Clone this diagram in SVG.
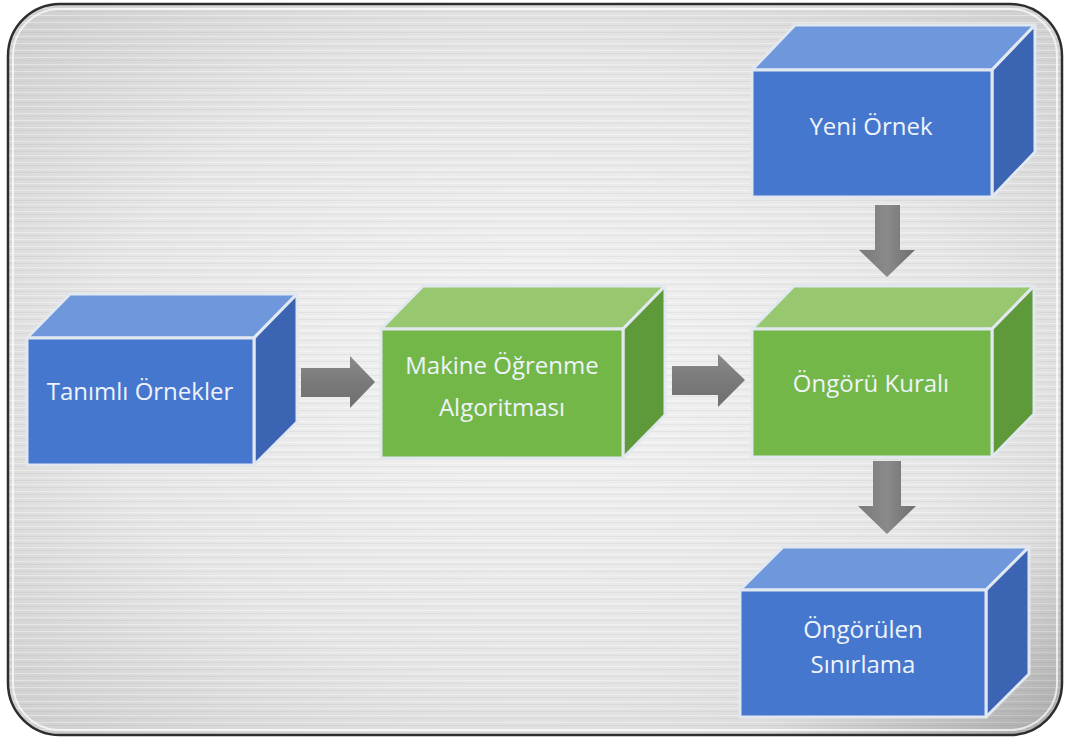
<svg xmlns="http://www.w3.org/2000/svg" width="1068" height="740" viewBox="0 0 1068 740">
  <defs>
    <radialGradient id="panelFill" cx="0.5" cy="0.5" r="0.7">
      <stop offset="0" stop-color="#f3f3f3"/>
      <stop offset="0.6" stop-color="#e6e6e6"/>
      <stop offset="1" stop-color="#cfcfcf"/>
    </radialGradient>
    <pattern id="brushed" width="8" height="7" patternUnits="userSpaceOnUse">
      <rect width="8" height="7" fill="none"/>
      <line x1="0" y1="1.5" x2="8" y2="1.5" stroke="#ffffff" stroke-opacity="0.35" stroke-width="1"/>
      <line x1="0" y1="4.5" x2="8" y2="4.5" stroke="#9a9a9a" stroke-opacity="0.12" stroke-width="1"/>
    </pattern>
    <linearGradient id="edgeShade" x1="0" y1="0" x2="1" y2="1">
      <stop offset="0" stop-color="#000" stop-opacity="0"/>
      <stop offset="0.85" stop-color="#000" stop-opacity="0"/>
      <stop offset="1" stop-color="#000" stop-opacity="0.18"/>
    </linearGradient>
    <linearGradient id="arrowH" x1="0" y1="0" x2="0" y2="1">
      <stop offset="0" stop-color="#8a8a8a"/>
      <stop offset="0.5" stop-color="#7a7a7a"/>
      <stop offset="1" stop-color="#6e6e6e"/>
    </linearGradient>
    <linearGradient id="arrowV" x1="0" y1="0" x2="1" y2="0">
      <stop offset="0" stop-color="#7a7a7a"/>
      <stop offset="0.5" stop-color="#8a8a8a"/>
      <stop offset="1" stop-color="#6e6e6e"/>
    </linearGradient>
    <style>
      .face { stroke: #e2e8f0; stroke-width: 3; stroke-linejoin: round; }
      .blue.front { fill: #4677cf; }
      .blue.top { fill: #6f97dc; }
      .blue.side { fill: #3b65b2; }
      .green.front { fill: #74b749; }
      .green.top { fill: #97c86f; }
      .green.side { fill: #5f9a3a; }
      .label { font-family: "Open Sans", "Noto Sans", "DejaVu Sans", sans-serif; font-size: 24px; fill: #eef3fa; text-anchor: middle; }
      .arrow { stroke: none; }
    </style>
  </defs>

  <!-- rounded brushed-metal panel -->
  <g id="panel">
    <rect x="8" y="4" width="1054" height="731" rx="52" ry="52" fill="url(#panelFill)"/>
    <rect x="8" y="4" width="1054" height="731" rx="52" ry="52" fill="url(#brushed)"/>
    <rect x="8" y="4" width="1054" height="731" rx="52" ry="52" fill="url(#edgeShade)"/>
    <rect x="13" y="9" width="1044" height="721" rx="47" ry="47" fill="none" stroke="#ffffff" stroke-opacity="0.7" stroke-width="2"/>
    <rect x="8" y="4" width="1054" height="731" rx="52" ry="52" fill="none" stroke="#2e2e2e" stroke-width="2.5"/>
  </g>

  <!-- connectors -->
  <g id="connectors">
    <polygon class="arrow" fill="url(#arrowH)" points="301,368 350,368 350,356 375,382 350,408 350,397 301,397"/>
    <polygon class="arrow" fill="url(#arrowH)" points="672,366 718,366 718,354 745,380 718,407 718,395 672,395"/>
    <polygon class="arrow" fill="url(#arrowV)" points="875,205 900,205 900,250 915,250 887,277 859,250 875,250"/>
    <polygon class="arrow" fill="url(#arrowV)" points="873,461 901,461 901,506 916,506 887,534 858,506 873,506"/>
  </g>

  <!-- Tanımlı Örnekler -->
  <g id="node-tanimli">
    <polygon class="face blue top" points="27,338 70,294 297,294 254,338"/>
    <polygon class="face blue side" points="254,338 297,294 297,422 254,465"/>
    <rect class="face blue front" x="27" y="338" width="227" height="127"/>
    <text class="label" x="140" y="400">Tanımlı Örnekler</text>
  </g>

  <!-- Makine Öğrenme Algoritması -->
  <g id="node-makine">
    <polygon class="face green top" points="381,329 423,286 665,286 623,329"/>
    <polygon class="face green side" points="623,329 665,286 665,415 623,458"/>
    <rect class="face green front" x="381" y="329" width="242" height="129"/>
    <text class="label" x="502" y="374">Makine Öğrenme</text>
    <text class="label" x="502" y="416">Algoritması</text>
  </g>

  <!-- Öngörü Kuralı -->
  <g id="node-kural">
    <polygon class="face green top" points="752,329 794,286 1034,286 992,329"/>
    <polygon class="face green side" points="992,329 1034,286 1034,414 992,457"/>
    <rect class="face green front" x="752" y="329" width="240" height="128"/>
    <text class="label" x="871" y="392">Öngörü Kuralı</text>
  </g>

  <!-- Yeni Örnek -->
  <g id="node-yeni">
    <polygon class="face blue top" points="752,70 795,25 1035,25 992,70"/>
    <polygon class="face blue side" points="992,70 1035,25 1035,152 992,197"/>
    <rect class="face blue front" x="752" y="70" width="240" height="127"/>
    <text class="label" x="871" y="135">Yeni Örnek</text>
  </g>

  <!-- Öngörülen Sınırlama -->
  <g id="node-ongorulen">
    <polygon class="face blue top" points="740,590 783,547 1029,547 986,590"/>
    <polygon class="face blue side" points="986,590 1029,547 1029,674 986,717"/>
    <rect class="face blue front" x="740" y="590" width="246" height="127"/>
    <text class="label" x="863" y="638">Öngörülen</text>
    <text class="label" x="863" y="673">Sınırlama</text>
  </g>
</svg>
